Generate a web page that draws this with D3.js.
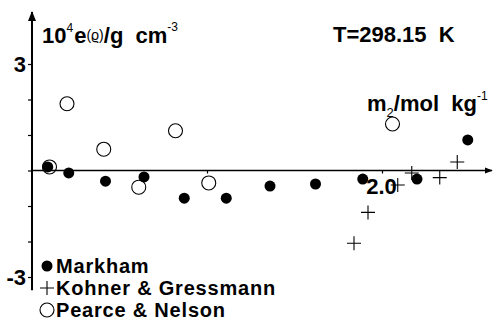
<!DOCTYPE html>
<html>
<head>
<meta charset="utf-8">
<script src="https://cdn.jsdelivr.net/npm/d3@7"></script>
<style>
  body { margin: 0; background: #fff; }
  text { font-family: "Liberation Sans", Arial, sans-serif; font-weight: bold; fill: #000; }
</style>
</head>
<body>
<svg id="chart" width="500" height="323"></svg>
<script>
const width = 500;
const height = 323;

// Markham (filled circles)
const markhamM = [0.09, 0.21, 0.42, 0.64, 0.87, 1.11, 1.36, 1.62, 1.89, 2.20, 2.49];
const markhamE = [0.10, -0.07, -0.30, -0.18, -0.78, -0.78, -0.44, -0.38, -0.24, -0.24, 0.86];
// Kohner & Gressmann (plus signs)
const kohnerM = [1.84, 1.92, 2.09, 2.17, 2.33, 2.43];
const kohnerE = [-2.05, -1.18, -0.41, -0.07, -0.20, 0.24];
// Pearce & Nelson (open circles)
const pearceM = [0.10, 0.20, 0.41, 0.61, 0.82, 1.01, 2.06];
const pearceE = [0.10, 1.88, 0.60, -0.47, 1.12, -0.35, 1.31];

const yTicks = [-3, -2, -1, 0, 1, 2, 3];
const yTickLabels = {"3": "3", "-3": "-3"};
const xTicks = [1.0, 2.0];
const xTickLabels = {"2": "2.0"};
const legendNames = ["Markham", "Kohner & Gressmann", "Pearce & Nelson"];

const x = d3.scaleLinear().domain([0, 2]).range([32, 382]);
const y = d3.scaleLinear().domain([-3, 3]).range([277, 64]);

const svg = d3.select("#chart");

svg.append("defs").append("marker")
  .attr("id", "arrow")
  .attr("viewBox", "0 0 10 10")
  .attr("refX", 9).attr("refY", 5)
  .attr("markerWidth", 5).attr("markerHeight", 5)
  .attr("orient", "auto")
  .append("path")
  .attr("d", "M0,1 L10,5 L0,9 Z")
  .attr("fill", "#000");

// axis lines with arrows
svg.append("line")
  .attr("x1", x(0)).attr("x2", x(0))
  .attr("y1", y(-3.37)).attr("y2", 12)
  .attr("stroke", "#000").attr("stroke-width", 2)
  .attr("marker-end", "url(#arrow)");

svg.append("line")
  .attr("x1", x(0)).attr("x2", 492)
  .attr("y1", y(0)).attr("y2", y(0))
  .attr("stroke", "#000").attr("stroke-width", 1.6)
  .attr("marker-end", "url(#arrow)");

// y ticks
let yAxis = d3.axisLeft(y)
  .tickValues(yTicks)
  .tickSize(4)
  .tickPadding(2)
  .tickFormat(d => yTickLabels[d] || "");
let gy = svg.append("g")
  .attr("transform", `translate(${x(0)},0)`)
  .call(yAxis);
gy.select(".domain").remove();
gy.selectAll("line").attr("stroke-width", 1.2);
gy.selectAll("text")
  .style("font-size", "22px")
  .style("font-family", "'Liberation Sans', Arial, sans-serif")
  .style("font-weight", "bold")
  .attr("dy", "0.36em");

// x ticks
let xAxis = d3.axisBottom(x)
  .tickValues(xTicks)
  .tickSize(3)
  .tickPadding(2)
  .tickFormat(d => xTickLabels[d] || "");
let gx = svg.append("g")
  .attr("transform", `translate(0,${y(0)})`)
  .call(xAxis);
gx.select(".domain").remove();
gx.selectAll("line").attr("stroke-width", 1.2);

// Markham points
svg.append("g").selectAll("circle")
  .data(d3.zip(markhamM, markhamE)).enter()
  .append("circle")
  .attr("cx", d => x(d[0]))
  .attr("cy", d => y(d[1]))
  .attr("r", 5.5)
  .attr("fill", "#000");

// Pearce & Nelson points
svg.append("g").selectAll("circle")
  .data(d3.zip(pearceM, pearceE)).enter()
  .append("circle")
  .attr("cx", d => x(d[0]))
  .attr("cy", d => y(d[1]))
  .attr("r", 7)
  .attr("fill", "none")
  .attr("stroke", "#000")
  .attr("stroke-width", 1.1);

// Kohner & Gressmann points
svg.append("g").selectAll("path")
  .data(d3.zip(kohnerM, kohnerE)).enter()
  .append("path")
  .attr("d", "M-7,0 H7 M0,-7 V7")
  .attr("transform", d => `translate(${x(d[0])},${y(d[1])})`)
  .attr("stroke", "#000")
  .attr("stroke-width", 1.1)
  .attr("fill", "none");

// x tick label drawn above the markers
gx.raise();
gx.selectAll("text")
  .style("font-size", "22px")
  .style("font-family", "'Liberation Sans', Arial, sans-serif")
  .style("font-weight", "bold")
  .attr("dy", "0.85em")
  .attr("dx", "-1");

// y-axis title
let title = svg.append("text")
  .attr("x", 42).attr("y", 43)
  .style("font-size", "22px")
  .attr("xml:space", "preserve");
title.append("tspan").text("10");
title.append("tspan").text("4").attr("dy", -11).style("font-size", "12px").style("font-weight", "normal");
title.append("tspan").text("e").attr("dy", 11).attr("dx", 1);
title.append("tspan").text("(ϱ)").style("font-size", "14px").style("font-weight", "normal").attr("dy", -3);
title.append("tspan").text("/g  cm").attr("dy", 3);
title.append("tspan").text("-3").attr("dy", -12).style("font-size", "12px").style("font-weight", "normal");

// temperature
svg.append("text")
  .attr("x", 333).attr("y", 42)
  .style("font-size", "22px")
  .attr("xml:space", "preserve")
  .text("T=298.15  K");

// x-axis title
let xt = svg.append("text")
  .attr("x", 367).attr("y", 111)
  .style("font-size", "22px")
  .attr("xml:space", "preserve");
xt.append("tspan").text("m");
xt.append("tspan").text("2").attr("dy", 6).style("font-size", "13px").style("font-weight", "normal");
xt.append("tspan").text("/mol  kg").attr("dy", -6);
xt.append("tspan").text("-1").attr("dy", -11).style("font-size", "12px").style("font-weight", "normal");

// legend
const legendY = [266, 288, 310];
let lg = svg.append("g");
lg.append("circle").attr("cx", 47).attr("cy", legendY[0]).attr("r", 5.5).attr("fill", "#000");
lg.append("path").attr("d", `M40,${legendY[1]} H54 M47,${legendY[1] - 7} V${legendY[1] + 7}`)
  .attr("stroke", "#000").attr("stroke-width", 1.1);
lg.append("circle").attr("cx", 47).attr("cy", legendY[2]).attr("r", 7)
  .attr("fill", "none").attr("stroke", "#000").attr("stroke-width", 1.1);
lg.selectAll("text")
  .data(legendNames).enter()
  .append("text")
  .attr("x", 56)
  .attr("y", (d, i) => legendY[i] + 7)
  .style("font-size", "20px")
  .style("letter-spacing", "0.8px")
  .text(d => d);
</script>
</body>
</html>
